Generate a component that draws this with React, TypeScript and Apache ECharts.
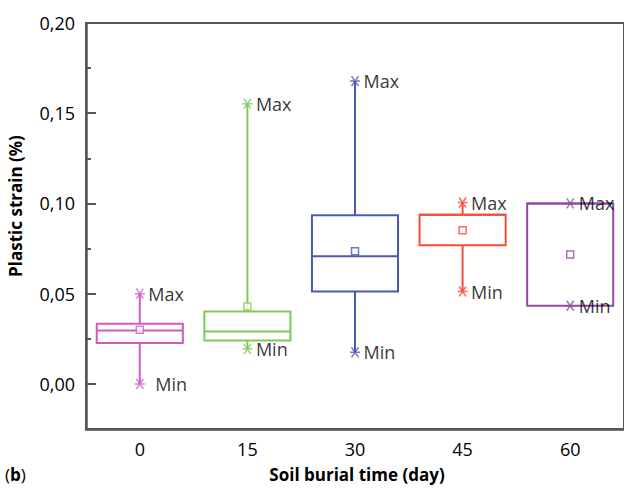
import React, { useEffect, useRef } from "react";
import * as echarts from "echarts";

const categories = ["0", "15", "30", "45", "60"];
const minValues = [0.0, 0.0193, 0.0175, 0.0512, 0.0433];
const q1Values = [0.0227, 0.0241, 0.0512, 0.0768, 0.0433];
const medianValues = [0.0296, 0.0291, 0.0707, 0.0938, 0.1];
const q3Values = [0.0333, 0.0401, 0.0934, 0.0938, 0.1];
const maxValues = [0.05, 0.1553, 0.1678, 0.1005, 0.1];
const meanValues = [0.0300, 0.0429, 0.0735, 0.0851, 0.0717];
const colors = ["#cf5cc4", "#7ccb57", "#4b58ab", "#f54b3b", "#8f4c9f"];
const majorTicks = [0, 0.05, 0.1, 0.15, 0.2];
const minorTicks = [0.025, 0.075, 0.125, 0.175];

const FONT = "Open Sans";
const AX = "#555";
const TXT = "#000";
const STAR = "path://M0,5 L10,5 M1.5,0.7 L8.5,9.3 M8.5,0.7 L1.5,9.3";

export default function App() {
  const ref = useRef<HTMLDivElement>(null);
  useEffect(() => {
    if (!ref.current) return;
    const chart = echarts.init(ref.current, undefined, { renderer: "svg" });
    const boxData = categories.map((_, i) => [
      i, minValues[i], q1Values[i], medianValues[i], q3Values[i], maxValues[i],
    ]);
    const markerLabel = (txt: string) => ({
      show: true,
      position: "right" as const,
      distance: 1,
      formatter: txt,
      color: TXT,
      fontSize: 18,
      fontFamily: FONT,
    });
    const option: any = {
      animation: false,
      grid: {
        left: 86, top: 23, width: 546, height: 406,
        show: true, borderColor: AX, borderWidth: 2, backgroundColor: "transparent",
      },
      xAxis: {
        type: "category",
        data: categories,
        boundaryGap: true,
        axisLine: { onZero: false, lineStyle: { color: AX, width: 2.5 } },
        axisTick: { alignWithLabel: true, inside: true, length: 9, lineStyle: { color: AX, width: 2 } },
        axisLabel: { color: TXT, fontSize: 18, fontFamily: FONT, margin: 11 },
        splitLine: { show: false },
      },
      yAxis: [
        {
          type: "value",
          min: -0.025,
          max: 0.2,
          axisLine: { show: true, lineStyle: { color: AX, width: 2.5 } },
          axisTick: { show: true, inside: true, length: 10, customValues: majorTicks, lineStyle: { color: AX, width: 2 } },
          axisLabel: {
            customValues: majorTicks,
            color: TXT, fontSize: 18, fontFamily: FONT, margin: 11,
            formatter: (v: number) => v.toFixed(2).replace(".", ","),
          },
          splitLine: { show: false },
        },
        {
          type: "value",
          min: -0.025,
          max: 0.2,
          position: "left",
          axisLine: { show: false },
          axisTick: { show: true, inside: true, length: 5, customValues: minorTicks, lineStyle: { color: AX, width: 2 } },
          axisLabel: { show: false },
          splitLine: { show: false },
        },
      ],
      graphic: [
        {
          type: "text",
          x: 15, y: 206, rotation: Math.PI / 2,
          style: {
            text: "Plastic strain (%)", fill: TXT, fontSize: 17, fontWeight: "bold",
            fontFamily: FONT, align: "center", verticalAlign: "middle",
          },
        },
        {
          type: "text",
          x: 357, y: 474,
          style: {
            text: "Soil burial time (day)", fill: TXT, fontSize: 17, fontWeight: "bold",
            fontFamily: FONT, align: "center", verticalAlign: "middle",
          },
        },
        {
          type: "text",
          x: 5, y: 474,
          style: {
            text: "({b|b})", fill: TXT, fontSize: 17, fontFamily: FONT,
            verticalAlign: "middle",
            rich: { b: { fontWeight: "bold", fontSize: 17, fontFamily: FONT, fill: TXT } },
          },
        },
      ],
      series: [
        {
          type: "custom",
          data: boxData,
          encode: { x: 0, y: [1, 2, 3, 4, 5] },
          renderItem: (params: any, api: any) => {
            const i = api.value(0);
            const c = colors[params.dataIndex];
            const w = api.size([1, 0])[0] * 0.8;
            const pMin = api.coord([i, api.value(1)]);
            const pQ1 = api.coord([i, api.value(2)]);
            const pMed = api.coord([i, api.value(3)]);
            const pQ3 = api.coord([i, api.value(4)]);
            const pMax = api.coord([i, api.value(5)]);
            const cx = pQ1[0];
            const st = { stroke: c, lineWidth: 2, fill: "none" };
            return {
              type: "group",
              children: [
                { type: "line", shape: { x1: cx, y1: pQ3[1], x2: cx, y2: pMax[1] }, style: st },
                { type: "line", shape: { x1: cx, y1: pQ1[1], x2: cx, y2: pMin[1] }, style: st },
                { type: "rect", shape: { x: cx - w / 2, y: pQ3[1], width: w, height: pQ1[1] - pQ3[1] }, style: st },
                { type: "line", shape: { x1: cx - w / 2, y1: pMed[1], x2: cx + w / 2, y2: pMed[1] }, style: st },
              ],
            };
          },
          z: 2,
        },
        {
          type: "scatter",
          symbol: STAR,
          symbolSize: 10,
          data: maxValues.map((v, i) => ({
            value: [i, v],
            itemStyle: { color: "none", borderColor: colors[i], borderWidth: 1.5 },
          })),
          label: markerLabel("Max"),
          z: 3,
        },
        {
          type: "scatter",
          symbol: STAR,
          symbolSize: 10,
          data: minValues.map((v, i) => ({
            value: [i, v],
            itemStyle: { color: "none", borderColor: colors[i], borderWidth: 1.5 },
            label: i === 0 ? { distance: 8 } : undefined,
          })),
          label: markerLabel("Min"),
          z: 3,
        },
        {
          type: "scatter",
          symbol: "rect",
          symbolSize: 7,
          data: meanValues.map((v, i) => ({
            value: [i, v],
            itemStyle: { color: "#fff", borderColor: colors[i], borderWidth: 1.5 },
          })),
          z: 4,
        },
      ],
    };
    chart.setOption(option);
    return () => chart.dispose();
  }, []);
  return <div ref={ref} style={{ width: 624, height: 488, position: "absolute", left: 0, top: 0 }} />;
}
